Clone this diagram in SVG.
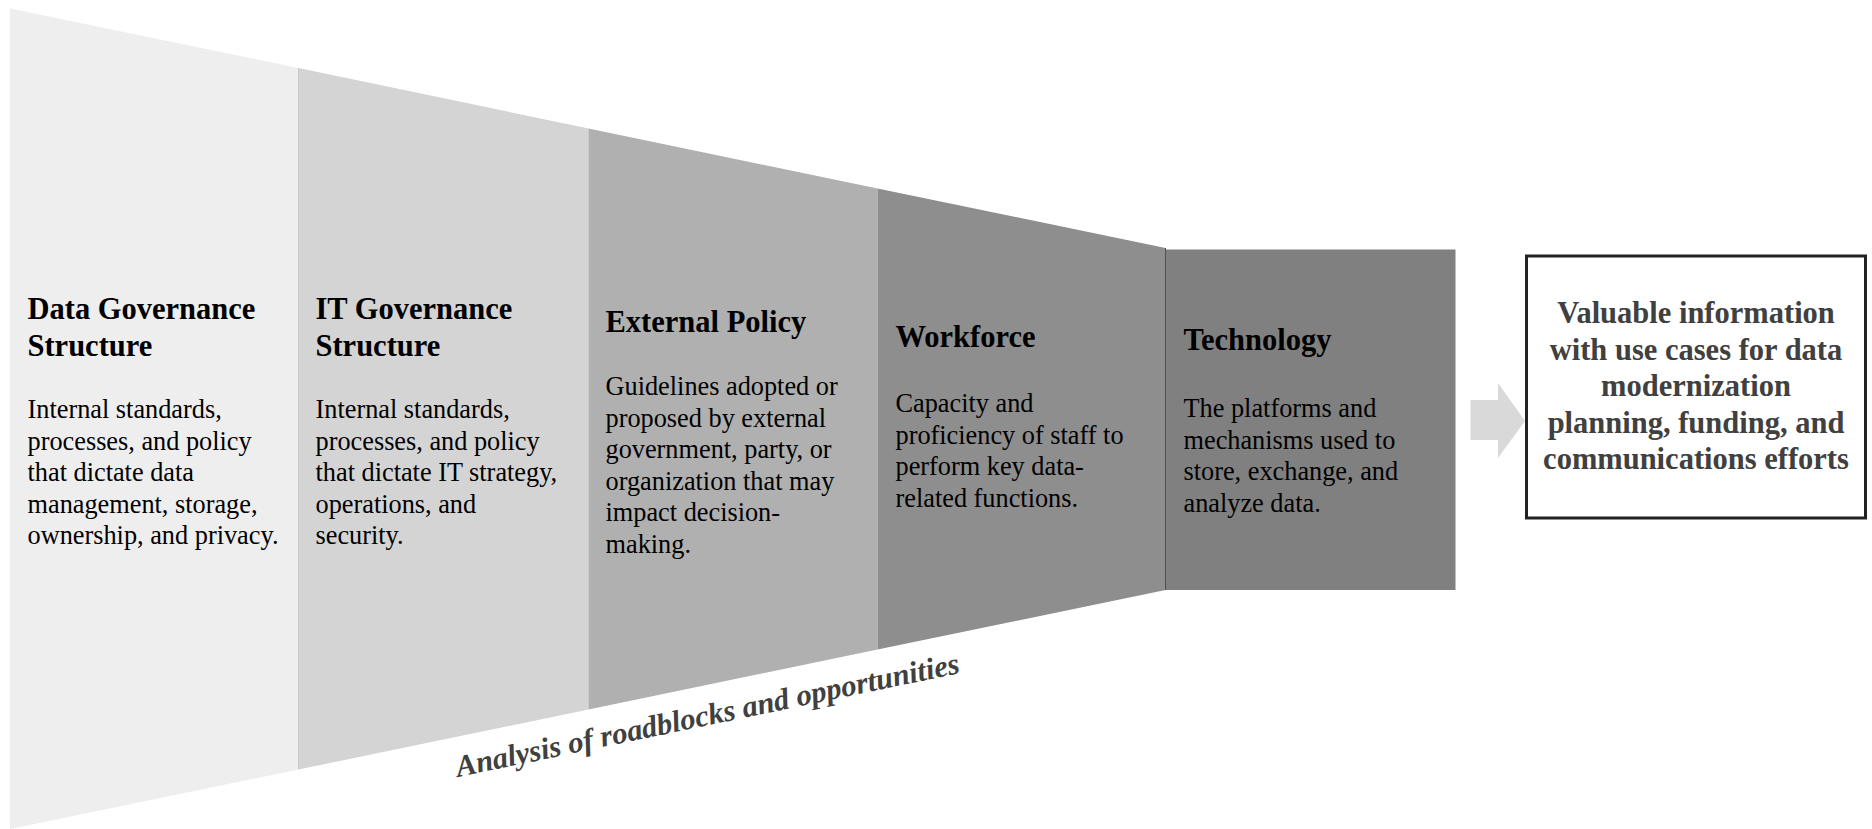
<svg xmlns="http://www.w3.org/2000/svg" width="1872" height="829" viewBox="0 0 1872 829">
<style>
.h{font-family:"Liberation Serif","Times New Roman",serif;font-weight:bold;font-size:30.5px;fill:#000}
.b{font-family:"Liberation Serif","Times New Roman",serif;font-size:26.3px;fill:#000}
.o{font-family:"Liberation Serif","Times New Roman",serif;font-weight:bold;font-size:30.5px;fill:#404040;text-anchor:middle}
.r{font-family:"Liberation Serif","Times New Roman",serif;font-weight:bold;font-style:italic;font-size:30.5px;fill:#404040}
</style>
<rect width="1872" height="829" fill="#fff"/>
<g id="data-governance">
<polygon points="10,8.5 298.5,68 298.5,769.5 10,829" fill="#eeeeee"/>
<text class="h" x="27.5"><tspan x="27.5" y="319">Data Governance</tspan><tspan x="27.5" y="355.5">Structure</tspan></text>
<text class="b"><tspan x="27.5" y="418">Internal standards,</tspan><tspan x="27.5" y="449.6">processes, and policy</tspan><tspan x="27.5" y="481.2">that dictate data</tspan><tspan x="27.5" y="512.8">management, storage,</tspan><tspan x="27.5" y="544.4">ownership, and privacy.</tspan></text>
</g>
<g id="it-governance">
<polygon points="298.5,68 588.5,128.5 588.5,709.5 298.5,769.5" fill="#d4d4d4"/>
<line x1="298.5" y1="68" x2="298.5" y2="769.5" stroke="#c9c9c9" stroke-width="1"/>
<text class="h"><tspan x="315.5" y="319">IT Governance</tspan><tspan x="315.5" y="355.5">Structure</tspan></text>
<text class="b"><tspan x="315.5" y="418">Internal standards,</tspan><tspan x="315.5" y="449.6">processes, and policy</tspan><tspan x="315.5" y="481.2">that dictate IT strategy,</tspan><tspan x="315.5" y="512.8">operations, and</tspan><tspan x="315.5" y="544.4">security.</tspan></text>
</g>
<g id="external-policy">
<polygon points="588.5,128.5 877.5,188.5 877.5,649.5 588.5,709.5" fill="#b0b0b0"/>
<text class="h"><tspan x="605.5" y="332">External Policy</tspan></text>
<text class="b"><tspan x="605.5" y="395">Guidelines adopted or</tspan><tspan x="605.5" y="426.6">proposed by external</tspan><tspan x="605.5" y="458.2">government, party, or</tspan><tspan x="605.5" y="489.8">organization that may</tspan><tspan x="605.5" y="521.4">impact decision-</tspan><tspan x="605.5" y="553">making.</tspan></text>
</g>
<g id="workforce">
<polygon points="877.5,188.5 1165.5,248 1165.5,590 877.5,649.5" fill="#8e8e8e"/>
<text class="h"><tspan x="895.5" y="347">Workforce</tspan></text>
<text class="b"><tspan x="895.5" y="412">Capacity and</tspan><tspan x="895.5" y="443.6">proficiency of staff to</tspan><tspan x="895.5" y="475.2">perform key data-</tspan><tspan x="895.5" y="506.8">related functions.</tspan></text>
</g>
<g id="technology">
<rect x="1165.5" y="249.5" width="290" height="340.5" fill="#808080"/>
<line x1="1165.5" y1="248" x2="1165.5" y2="590" stroke="#505050" stroke-width="1"/>
<text class="h"><tspan x="1183.5" y="350">Technology</tspan></text>
<text class="b"><tspan x="1183.5" y="417">The platforms and</tspan><tspan x="1183.5" y="448.6">mechanisms used to</tspan><tspan x="1183.5" y="480.2">store, exchange, and</tspan><tspan x="1183.5" y="511.8">analyze data.</tspan></text>
</g>
<g id="roadblocks-label">
<text class="r" x="458" y="777" transform="rotate(-11.7 458 777)">Analysis of roadblocks and opportunities</text>
</g>
<g id="connectors">
<polygon points="1470.5,400 1498,400 1498,383 1525,421 1498,458 1498,440 1470.5,440" fill="#d9d9d9"/>
</g>
<g id="outcome">
<rect x="1526.5" y="256" width="339" height="262" fill="#fff" stroke="#222" stroke-width="3"/>
<text class="o"><tspan x="1696" y="323">Valuable information</tspan><tspan x="1696" y="359.5">with use cases for data</tspan><tspan x="1696" y="396">modernization</tspan><tspan x="1696" y="432.5">planning, funding, and</tspan><tspan x="1696" y="469">communications efforts</tspan></text>
</g>
</svg>
